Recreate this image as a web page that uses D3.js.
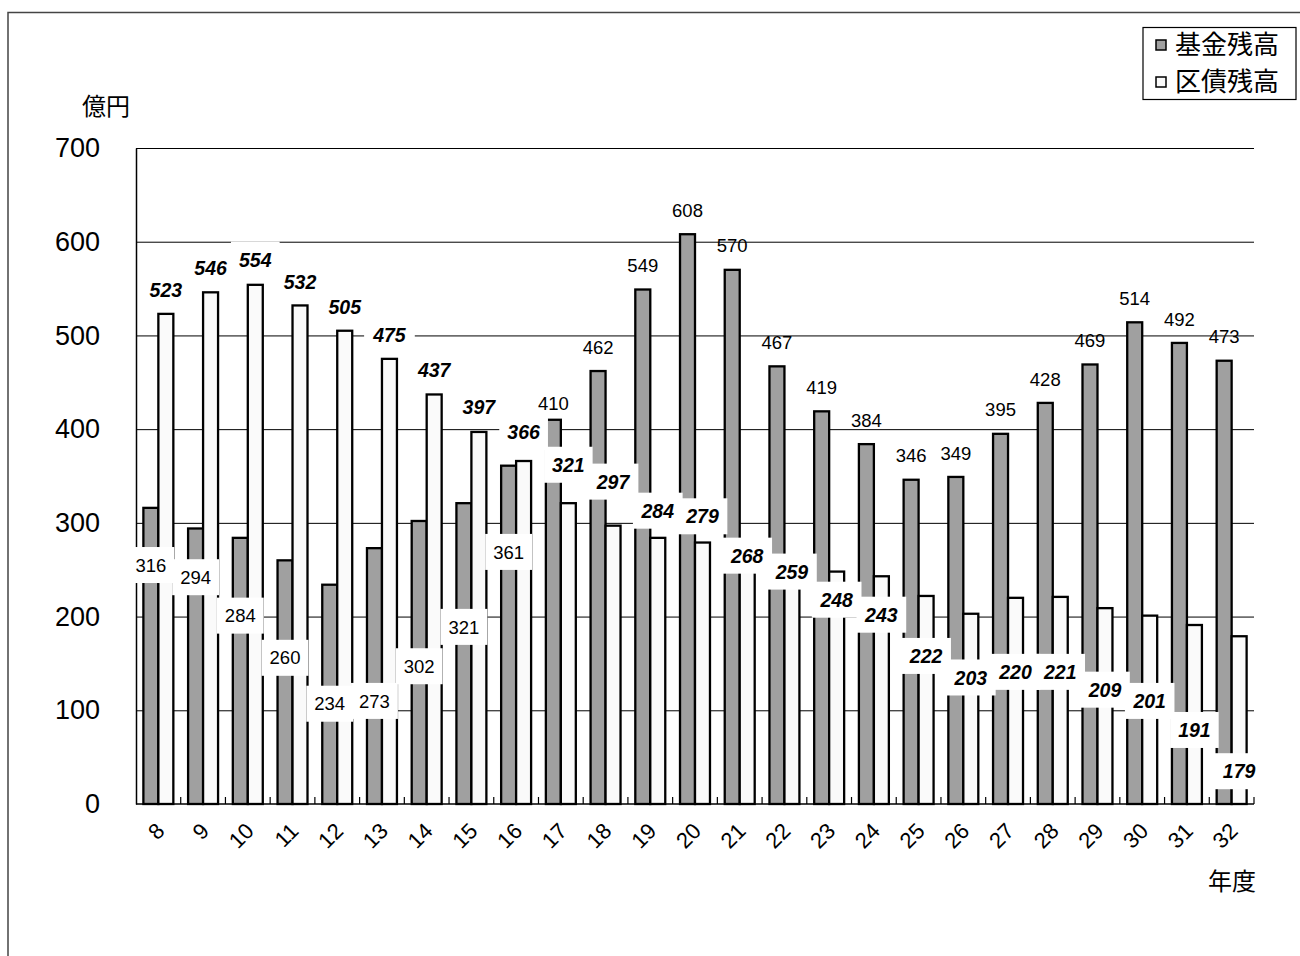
<!DOCTYPE html>
<html>
<head>
<meta charset="utf-8">
<script src="https://cdn.jsdelivr.net/npm/d3@7"></script>
<style>
  html, body { margin: 0; padding: 0; background: #fff; }
  svg { display: block; }
  text { font-family: "Liberation Sans", Arial, sans-serif; }
  .jp { font-family: "Noto Sans CJK JP", "Noto Sans", sans-serif; }
</style>
</head>
<body>
<svg id="chart" width="1300" height="956"></svg>
<script>
// ---- data ----
const years = ["8","9","10","11","12","13","14","15","16","17","18","19","20","21","22","23","24","25","26","27","28","29","30","31","32"];
const fundBalance = [316,294,284,260,234,273,302,321,361,410,462,549,608,570,467,419,384,346,349,395,428,469,514,492,473];
const bondBalance = [523,546,554,532,505,475,437,397,366,321,297,284,279,268,259,248,243,222,203,220,221,209,201,191,179];
// where each value label sits (in 億円 units); null = just above the bar
const fundLabelAt = [255,242,201,156,107,110,147,189,269,428,null,null,null,null,null,null,null,null,null,null,null,null,null,null,null];
const bondLabelAt = [549,572,581,557,530,500,463,424,397,362,344,313,307,265,248,218,202,158,135,141,141,122,110,79,35];
const yTicks = [0,100,200,300,400,500,600,700];
const seriesNames = ["基金残高","区債残高"];

// ---- layout ----
const svg = d3.select("#chart");
const L = 136, R = 1254, T = 148, B = 804;
const fundColor = "#a0a0a0", bondColor = "#fafafa";

// outer frame
svg.append("rect").attr("x", 8).attr("y", 12.5).attr("width", 1320).attr("height", 1000)
  .attr("fill", "none").attr("stroke", "#444").attr("stroke-width", 1.5);

const x = d3.scaleBand().domain(years).range([L, R]).paddingInner(0.33).paddingOuter(0.165);
const xs = d3.scaleBand().domain(seriesNames).range([0, x.bandwidth()]);
const y = d3.scaleLinear().domain([0, 700]).range([B, T]);

// gridlines
svg.append("g").selectAll("line").data(yTicks.filter(d => d > 0)).join("line")
  .attr("x1", L).attr("x2", R).attr("y1", d => y(d) + 0.5).attr("y2", d => y(d) + 0.5)
  .attr("stroke", "#000").attr("stroke-width", 1);

// y axis
const yAxis = d3.axisLeft(y).tickValues(yTicks).tickSize(0).tickPadding(36).tickFormat(d3.format("d"));
const gy = svg.append("g").attr("transform", `translate(${L},0)`).call(yAxis);
gy.select(".domain").attr("stroke", "#000").attr("stroke-width", 1.5);
gy.selectAll("text").attr("font-size", 27).attr("fill", "#000")
  .style("font-family", '"Liberation Sans", Arial, sans-serif');

// bars
const step = x.step();
const groups = svg.append("g").selectAll("g").data(years).join("g")
  .attr("transform", d => `translate(${x(d)},0)`);
groups.append("rect")
  .attr("x", xs(seriesNames[0]))
  .attr("y", (d, i) => y(fundBalance[i]))
  .attr("width", xs.bandwidth())
  .attr("height", (d, i) => B - y(fundBalance[i]))
  .attr("fill", fundColor).attr("stroke", "#000").attr("stroke-width", 2.3);
groups.append("rect")
  .attr("x", xs(seriesNames[1]))
  .attr("y", (d, i) => y(bondBalance[i]))
  .attr("width", xs.bandwidth())
  .attr("height", (d, i) => B - y(bondBalance[i]))
  .attr("fill", bondColor).attr("stroke", "#000").attr("stroke-width", 2.3);

// x axis line + inward ticks at category boundaries
svg.append("line").attr("x1", L).attr("x2", R).attr("y1", B).attr("y2", B)
  .attr("stroke", "#000").attr("stroke-width", 1.5);
const bounds = years.map((d, i) => L + step * (i + 1));
svg.append("g").selectAll("line").data(bounds).join("line")
  .attr("x1", d => d).attr("x2", d => d).attr("y1", B).attr("y2", B - 7)
  .attr("stroke", "#000").attr("stroke-width", 1.2);

// x labels rotated
svg.append("g").selectAll("text").data(years).join("text")
  .attr("transform", d => `translate(${x(d) + x.bandwidth() / 2 + 2},827) rotate(-45)`)
  .attr("text-anchor", "end").attr("dy", "0.35em")
  .attr("font-size", 22).attr("fill", "#000").text(d => d);

// value labels
const labels = svg.append("g");
function addLabel(cx, cy, txt, opts) {
  const g = labels.append("g");
  const t = g.append("text").attr("x", cx).attr("y", cy).attr("dy", "0.36em")
    .attr("text-anchor", "middle").attr("font-size", opts.size)
    .attr("font-weight", opts.bold ? "bold" : "normal")
    .attr("font-style", opts.italic ? "italic" : "normal")
    .attr("fill", "#000").text(txt);
  if (opts.box) {
    const bb = t.node().getBBox();
    g.insert("rect", "text").attr("x", cx - bb.width / 2 - 8).attr("y", cy - 18)
      .attr("width", bb.width + 16).attr("height", 36).attr("fill", "#fff");
  }
}
years.forEach((d, i) => {
  const gx = x(d) + xs(seriesNames[0]) + xs.bandwidth() / 2;
  if (fundLabelAt[i] === null) {
    addLabel(gx, y(fundBalance[i]) - 24, fundBalance[i], { size: 18.5 });
  } else {
    addLabel(gx, y(fundLabelAt[i]), fundBalance[i], { size: 18.5, box: i < 9 });
  }
});
years.forEach((d, i) => {
  const bx = x(d) + xs(seriesNames[1]) + xs.bandwidth() / 2;
  addLabel(bx, y(bondLabelAt[i]), bondBalance[i], { size: 19.5, bold: true, italic: true, box: true });
});

// unit labels
svg.append("text").attr("class", "jp").attr("x", 106).attr("y", 107).attr("dy", "0.35em")
  .attr("text-anchor", "middle").attr("font-size", 24).attr("fill", "#000").text("億円");
svg.append("text").attr("class", "jp").attr("x", 1232).attr("y", 882).attr("dy", "0.35em")
  .attr("text-anchor", "middle").attr("font-size", 24).attr("fill", "#000").text("年度");

// legend
const lg = svg.append("g");
lg.append("rect").attr("x", 1143).attr("y", 27.5).attr("width", 153).attr("height", 72)
  .attr("fill", "#fff").attr("stroke", "#000").attr("stroke-width", 1.2);
const legendItems = [{ name: seriesNames[0], color: fundColor, cy: 45 }, { name: seriesNames[1], color: bondColor, cy: 82 }];
legendItems.forEach(it => {
  lg.append("rect").attr("x", 1156).attr("y", it.cy - 5).attr("width", 10).attr("height", 10)
    .attr("fill", it.color).attr("stroke", "#000").attr("stroke-width", 1.5);
  lg.append("text").attr("class", "jp").attr("x", 1175).attr("y", it.cy).attr("dy", "0.36em")
    .attr("font-size", 26).attr("fill", "#000").text(it.name);
});
</script>
</body>
</html>
